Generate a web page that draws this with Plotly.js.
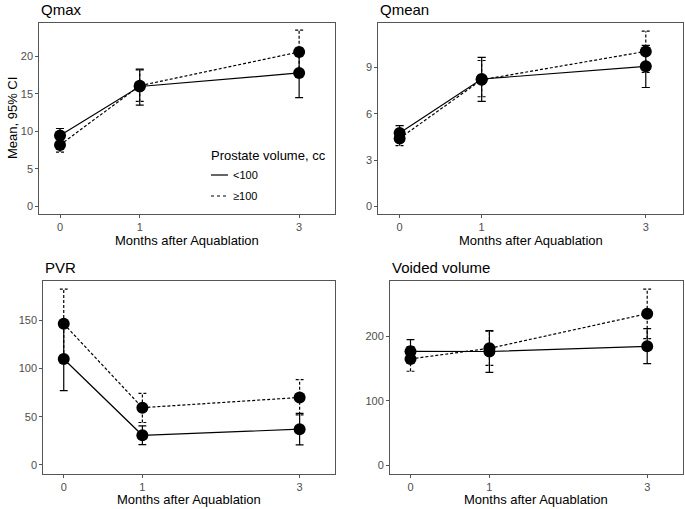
<!DOCTYPE html>
<html>
<head>
<meta charset="utf-8">
<script src="https://cdn.plot.ly/plotly-3.0.1.min.js"></script>
<style>
  html, body { margin: 0; padding: 0; background: #fff; }
  #chart { width: 685px; height: 509px; }
</style>
</head>
<body>
<div id="chart"></div>
<script>
// Months after the procedure (x positions)
const months = [0, 1, 3];
const groupNames = ['<100', '≥100'];

// Qmax (mean, lower CI, upper CI) for each prostate volume group
const qmaxSmall = [9.45, 16.0, 17.8];
const qmaxSmallLo = [8.5, 13.5, 14.5];
const qmaxSmallHi = [10.4, 18.3, 21.1];
const qmaxLarge = [8.2, 16.1, 20.6];
const qmaxLargeLo = [7.25, 14.0, 17.7];
const qmaxLargeHi = [9.2, 18.2, 23.5];

// Qmean
const qmeanSmall = [4.75, 8.25, 9.07];
const qmeanSmallLo = [4.3, 6.8, 7.7];
const qmeanSmallHi = [5.23, 9.65, 10.43];
const qmeanLarge = [4.4, 8.2, 10.04];
const qmeanLargeLo = [3.93, 7.1, 8.68];
const qmeanLargeHi = [4.9, 9.45, 11.35];

// PVR
const pvrSmall = [110, 30.7, 37];
const pvrSmallLo = [77, 21, 20.7];
const pvrSmallHi = [143, 40.5, 53.5];
const pvrLarge = [146.5, 59.4, 70];
const pvrLargeLo = [111, 44, 52];
const pvrLargeHi = [182.5, 74.2, 88.6];

// Voided volume
const vvSmall = [176.7, 176.5, 184.5];
const vvSmallLo = [159, 144, 157.7];
const vvSmallHi = [195, 209, 212];
const vvLarge = [165, 181.4, 235.2];
const vvLargeLo = [145.8, 155, 196.4];
const vvLargeHi = [184, 208, 273.5];

// Panel titles and y ticks
const panelTitles = ['Qmax', 'Qmean', 'PVR', 'Voided volume'];
const qmaxTicks = [0, 5, 10, 15, 20];
const qmeanTicks = [0, 3, 6, 9];
const pvrTicks = [0, 50, 100, 150];
const vvTicks = [0, 100, 200];

const W = 685, H = 509;
const FONT = 'Liberation Sans, Arial, sans-serif';
const CAP = 0.05; // half width of the error bar caps, in x units

// build an error bar trace (stems + caps) from the CI arrays
function errorBars(lo, hi, dash, xa, ya) {
    const x = [], y = [];
    months.forEach((m, i) => {
        x.push(m, m, null, m - CAP, m + CAP, null, m - CAP, m + CAP, null);
        y.push(lo[i], hi[i], null, lo[i], lo[i], null, hi[i], hi[i], null);
    });
    return {
        x: x, y: y, xaxis: xa, yaxis: ya, mode: 'lines', showlegend: false,
        hoverinfo: 'skip', line: {color: '#000', width: 1.2, dash: dash}
    };
}

function meanLine(vals, dash, xa, ya) {
    return {
        x: months, y: vals, xaxis: xa, yaxis: ya, mode: 'lines+markers', showlegend: false,
        line: {color: '#000', width: 1.2, dash: dash},
        marker: {color: '#000', size: 12}
    };
}

const panels = [
    {small: [qmaxSmall, qmaxSmallLo, qmaxSmallHi], large: [qmaxLarge, qmaxLargeLo, qmaxLargeHi], xa: 'x', ya: 'y'},
    {small: [qmeanSmall, qmeanSmallLo, qmeanSmallHi], large: [qmeanLarge, qmeanLargeLo, qmeanLargeHi], xa: 'x2', ya: 'y2'},
    {small: [pvrSmall, pvrSmallLo, pvrSmallHi], large: [pvrLarge, pvrLargeLo, pvrLargeHi], xa: 'x3', ya: 'y3'},
    {small: [vvSmall, vvSmallLo, vvSmallHi], large: [vvLarge, vvLargeLo, vvLargeHi], xa: 'x4', ya: 'y4'}
];

const DOTS = '3px,2px';
const data = [];
panels.forEach(p => {
    data.push(errorBars(p.small[1], p.small[2], 'solid', p.xa, p.ya));
    data.push(errorBars(p.large[1], p.large[2], DOTS, p.xa, p.ya));
    data.push(meanLine(p.small[0], 'solid', p.xa, p.ya));
    data.push(meanLine(p.large[0], DOTS, p.xa, p.ya));
});

// panel boxes in pixels: [left, right, top, bottom]
const boxes = [
    [39.3, 335, 22.7, 214],
    [378.3, 682.7, 22.7, 214],
    [43.3, 335, 281, 473.5],
    [390, 682.7, 281, 473.5]
];
const yRanges = [[-1, 24.5], [-0.5, 11.9], [-9, 191], [-13, 286]];
const yTicks = [qmaxTicks, qmeanTicks, pvrTicks, vvTicks];

const px = v => v / W;
const py = v => 1 - v / H;

const axisStyle = {
    showline: true, mirror: true, linecolor: '#555', linewidth: 1,
    showgrid: false, zeroline: false, ticks: 'outside', ticklen: 3,
    tickcolor: '#555', tickfont: {family: FONT, size: 11, color: '#4d4d4d'}
};

const layout = {
    width: W, height: H,
    margin: {l: 0, r: 0, t: 0, b: 0},
    paper_bgcolor: '#fff', plot_bgcolor: '#fff',
    showlegend: false,
    font: {family: FONT},
    annotations: [],
    shapes: []
};

boxes.forEach((b, i) => {
    const n = i === 0 ? '' : String(i + 1);
    layout['xaxis' + n] = Object.assign({}, axisStyle, {
        domain: [px(b[0]), px(b[1])], range: [-0.26, 3.45],
        tickvals: months, ticktext: months.map(String), anchor: 'y' + n
    });
    layout['yaxis' + n] = Object.assign({}, axisStyle, {
        domain: [py(b[3]), py(b[2])], range: yRanges[i],
        tickvals: yTicks[i], anchor: 'x' + n
    });
    // panel title
    layout.annotations.push({
        text: panelTitles[i], xref: 'paper', yref: 'paper',
        x: px(b[0]), y: py(b[2] - 3), xanchor: 'left', yanchor: 'bottom',
        showarrow: false, font: {family: FONT, size: 15, color: '#000'}
    });
    // x axis title
    layout.annotations.push({
        text: 'Months after Aquablation', xref: 'paper', yref: 'paper',
        x: px((b[0] + b[1]) / 2), y: py(b[3] + 26), xanchor: 'center', yanchor: 'middle',
        showarrow: false, font: {family: FONT, size: 13, color: '#000'}
    });
});

// y title, first panel only
layout.annotations.push({
    text: 'Mean, 95% CI', xref: 'paper', yref: 'paper',
    x: px(12), y: py(118), textangle: -90, xanchor: 'center', yanchor: 'middle',
    showarrow: false, font: {family: FONT, size: 13, color: '#000'}
});

// legend drawn inside the Qmax panel
layout.annotations.push({
    text: 'Prostate volume, cc', xref: 'paper', yref: 'paper',
    x: px(209), y: py(155), xanchor: 'left', yanchor: 'middle',
    showarrow: false, font: {family: FONT, size: 13, color: '#000'}
});
const legendRows = [175, 196];
const legendDash = ['solid', 'dot'];
groupNames.forEach((g, i) => {
    layout.annotations.push({
        text: g, xref: 'paper', yref: 'paper',
        x: px(231), y: py(legendRows[i]), xanchor: 'left', yanchor: 'middle',
        showarrow: false, font: {family: FONT, size: 11, color: '#000'}
    });
    layout.shapes.push({
        type: 'line', xref: 'paper', yref: 'paper',
        x0: px(211), x1: px(228), y0: py(legendRows[i]), y1: py(legendRows[i]),
        line: {color: '#000', width: 1.2, dash: legendDash[i]}
    });
});

Plotly.newPlot('chart', data, layout, {staticPlot: true, displayModeBar: false});
</script>
</body>
</html>
